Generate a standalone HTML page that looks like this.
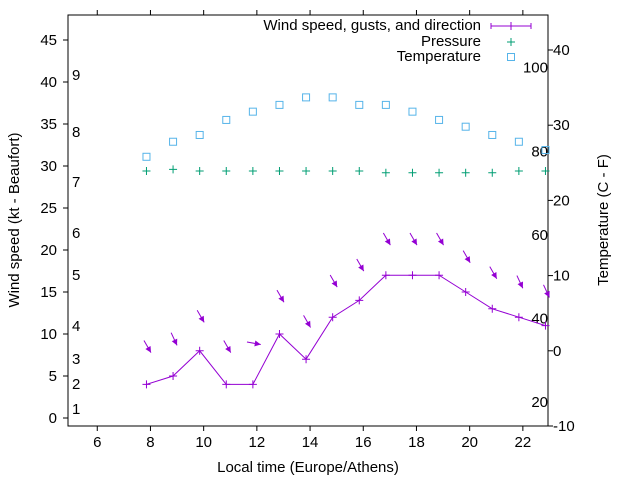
<!DOCTYPE html>
<html><head><meta charset="utf-8"><style>
body{margin:0;background:#fff}
svg{display:block;font-family:"Liberation Sans",sans-serif}
</style></head><body>
<svg id="c" width="640" height="480">
</svg>
<script>
const hours=[7.85,8.85,9.85,10.85,11.85,12.85,13.85,14.85,15.85,16.85,17.85,18.85,19.85,20.85,21.85,22.85];
const windSpeed=[4,5,8,4,4,10,7,12,14,17,17,17,15,13,12,11];
const gusts=[8.5,9.4,12.1,8.5,8.9,14.5,11.5,16.3,18.2,21.3,21.3,21.3,19.2,17.3,16.2,15.1];
const windDir=[330,335,330,330,280,330,330,330,330,330,330,330,330,330,335,335];
const pressure=[29.4,29.6,29.4,29.4,29.4,29.4,29.4,29.4,29.4,29.2,29.2,29.2,29.2,29.2,29.4,29.4];
const temperature=[25.8,27.8,28.7,30.7,31.8,32.7,33.7,33.7,32.7,32.7,31.8,30.7,29.8,28.7,27.8,26.7];
const xTicks=[6,8,10,12,14,16,18,20,22];
const yTicks=[0,5,10,15,20,25,30,35,40,45];
const y2Ticks=[-10,0,10,20,30,40];
const fTicks=[20,40,60,80,100];
const beaufort=[[1,408],[2,383],[3,358],[4,325],[5,274],[6,232],[7,181],[8,131],[9,74]];

const L=68,R=548,T=15,B=426;
const X=h=>L+(h-4.9)*26.6;
const Y=v=>418-v*8.4;
const Y2=c=>B-(c+10)*7.52;
const svg=document.getElementById('c');
const NS='http://www.w3.org/2000/svg';
function mk(tag,a,p){const e=document.createElementNS(NS,tag);for(const k in a)e.setAttribute(k,a[k]);(p||svg).appendChild(e);return e;}
function txt(s,x,y,anchor,size,name){const t=mk('text',{x:x,y:y,'text-anchor':anchor,'font-size':size,fill:'#000'});t.textContent=s;


return t;}

const frame=mk('rect',{x:L,y:T,width:R-L,height:B-T,fill:'none',stroke:'#000','stroke-width':1});



xTicks.forEach(h=>{const x=X(h);
 const t=mk('path',{d:`M${x} ${B}v5M${x} ${T}v-5`,stroke:'#000'});
 
 
 txt(String(h),x,447,'middle',15,'x-tick-label');});
yTicks.forEach(v=>{const y=Y(v);
 const t=mk('path',{d:`M${L} ${y}h-5`,stroke:'#000'});
 
 
 txt(String(v),57,y+5,'end',15,'y-tick-label');});
y2Ticks.forEach(c=>{const y=Y2(c);
 const t=mk('path',{d:`M${R} ${y}h5`,stroke:'#000'});
 
 
 txt(String(c),553,y+5,'start',15,'y2-tick-label');});
fTicks.forEach(f=>{txt(String(f),548,Y2((f-32)*5/9)+6,'end',15,'fahrenheit-label');});
beaufort.forEach(b=>{txt(String(b[0]),72,b[1]+6,'start',15,'beaufort-label');});

txt('Local time (Europe/Athens)',308,472,'middle',15,'x-axis-title');
let t1=txt('Wind speed (kt - Beaufort)',0,0,'middle',15,'y-axis-title');t1.setAttribute('transform','translate(19,220) rotate(-90)');
let t2=txt('Temperature (C - F)',0,0,'middle',15,'y2-axis-title');t2.setAttribute('transform','translate(608,220) rotate(-90)');

const P='#9400d3',G='#009e73',C='#56b4e9';
const line=mk('polyline',{points:hours.map((h,i)=>X(h)+','+Y(windSpeed[i])).join(' '),fill:'none',stroke:P,'stroke-width':1});


hours.forEach((h,i)=>{const x=X(h),y=Y(windSpeed[i]);
 const m=mk('path',{d:`M${x-4} ${y}h8M${x} ${y-4}v8`,stroke:P});
 
 
 const b=(windDir[i]+180)*Math.PI/180, dx=Math.sin(b), dy=-Math.cos(b);
 const cx=X(h)+1, cy=Y(gusts[i]), len=14;
 const x1=cx-dx*len/2,y1=cy-dy*len/2,x2=cx+dx*len/2,y2=cy+dy*len/2;
 const px=-dy,py=dx;
 const a=mk('g',{});
 
 
 mk('line',{x1:x1,y1:y1,x2:x2,y2:y2,stroke:P,'stroke-width':1},a);
 mk('polygon',{points:`${x2},${y2} ${x2-dx*6+px*3},${y2-dy*6+py*3} ${x2-dx*6-px*3},${y2-dy*6-py*3}`,fill:P},a);
});
hours.forEach((h,i)=>{const x=X(h),y=Y(pressure[i]);
 const m=mk('path',{d:`M${x-4} ${y}h8M${x} ${y-4}v8`,stroke:G});
 
 });
hours.forEach((h,i)=>{const x=X(h),y=Y2(temperature[i]);
 const m=mk('rect',{x:x-3.5,y:y-3.5,width:7,height:7,fill:'none',stroke:C});
 
 });

const lg=mk('g',{});


txt('Wind speed, gusts, and direction',481,30,'end',15,'legend-wind-label');
mk('path',{d:'M491 26h40M491 23v6M531 23v6M511 22v8',stroke:P},lg);
txt('Pressure',481,46,'end',15,'legend-pressure-label');
mk('path',{d:'M507 42h8M511 38v8',stroke:G},lg);
txt('Temperature',481,61,'end',15,'legend-temperature-label');
mk('rect',{x:507.5,y:53.5,width:7,height:7,fill:'none',stroke:C},lg);
</script>
</body></html>
